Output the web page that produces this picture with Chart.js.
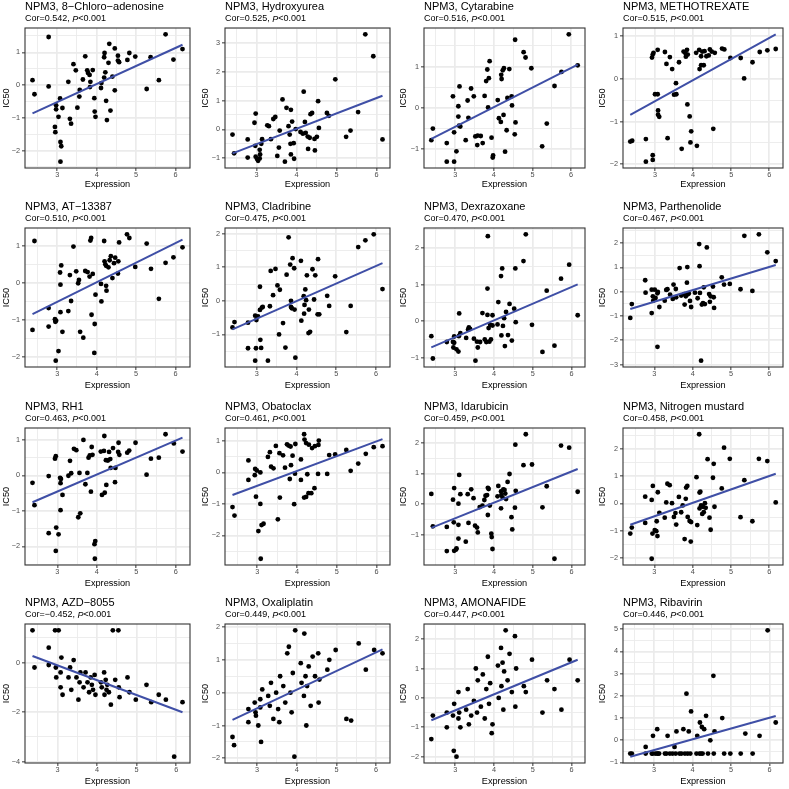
<!DOCTYPE html>
<html>
<head>
<meta charset="utf-8">
<script src="https://cdn.jsdelivr.net/npm/chart.js@4.4.0/dist/chart.umd.min.js"></script>
<style>
  body { margin: 0; background: #fff; overflow: hidden; }
  #grid { position: relative; width: 789px; height: 789px; }
  #grid canvas { position: absolute; }
</style>
</head>
<body>
<div id="grid"></div>
<script>
// panel titles and stats, row by row
const geneName = 'NPM3';
const drugNames = ['8\u2212Chloro\u2212adenosine', 'Hydroxyurea', 'Cytarabine', 'METHOTREXATE',
  'AT\u221213387', 'Cladribine', 'Dexrazoxane', 'Parthenolide',
  'RH1', 'Obatoclax', 'Idarubicin', 'Nitrogen mustard',
  'AZD\u22128055', 'Oxaliplatin', 'AMONAFIDE', 'Ribavirin'];
const corValues = ['0.542', '0.525', '0.516', '0.515', '0.510', '0.475', '0.470', '0.467',
  '0.463', '0.461', '0.459', '0.458', '\u22120.452', '0.449', '0.447', '0.446'];
const pValueText = '<0.001';

const xTicks = [3, 4, 5, 6];
const yTicks = [
  [-2, -1, 0, 1], [-1, 0, 1, 2, 3], [-1, 0, 1], [-2, -1, 0, 1],
  [-2, -1, 0, 1], [-1, 0, 1, 2], [-1, 0, 1, 2], [-3, -2, -1, 0, 1, 2],
  [-2, -1, 0, 1], [-2, -1, 0, 1], [-1, 0, 1, 2], [-2, -1, 0, 1, 2],
  [-4, -2, 0], [-2, -1, 0, 1, 2], [-2, -1, 0, 1, 2], [0, 1, 2, 3, 4, 5]
];

// [expression, IC50] per panel
const pts1 = [[2.37,0.15],[2.42,-0.28],[2.78,1.47],[2.78,-0.04],[2.97,-0.62],[2.97,-0.74],[3.07,-0.41],[3.03,-0.97],[2.94,-1.28],[2.95,-1.44],[3.08,-1.74],[3.10,-1.87],[3.08,-2.34],[3.13,-0.70],[3.28,0.10],[3.32,-1.03],[3.35,-1.18],[3.41,0.64],[3.47,0.45],[3.51,-0.69],[3.57,-0.15],[3.56,-0.35],[3.65,0.17],[3.71,0.88],[3.76,0.45],[3.78,0.37],[3.84,0.10],[3.83,-0.06],[3.82,0.31],[3.90,0.46],[3.94,-0.40],[3.95,-0.81],[3.97,-0.97],[4.11,-0.09],[4.12,0.06],[4.19,0.23],[4.19,0.85],[4.20,0.98],[4.22,0.39],[4.24,-0.48],[4.26,-1.07],[4.30,0.68],[4.32,1.26],[4.35,-0.78],[4.40,0.26],[4.46,1.12],[4.46,-0.16],[4.54,0.90],[4.54,0.75],[4.57,0.70],[4.83,0.98],[4.78,0.77],[4.98,0.87],[5.27,-0.12],[5.37,0.85],[5.58,0.15],[5.75,1.55],[5.95,0.78],[6.18,1.10]];
const pts2 = [[2.40,-0.18],[2.44,-0.83],[2.78,-0.35],[2.78,-0.98],[2.98,0.55],[2.95,0.23],[2.97,-0.57],[2.98,-0.95],[3.02,-1.04],[3.04,-1.09],[3.08,-1.01],[3.09,-0.87],[3.08,-0.71],[3.12,-0.50],[3.14,-0.34],[3.27,0.14],[3.31,0.11],[3.36,-0.34],[3.42,0.36],[3.47,0.43],[3.52,-0.92],[3.56,-0.63],[3.58,-0.04],[3.65,1.04],[3.71,-1.12],[3.75,0.75],[3.80,0.11],[3.83,-0.18],[3.85,-0.50],[3.86,0.68],[3.86,-0.87],[3.89,0.27],[3.93,-0.48],[3.94,-1.02],[3.98,0.01],[4.10,-0.09],[4.16,-0.15],[4.18,1.31],[4.21,0.26],[4.23,-0.12],[4.28,-0.25],[4.29,-0.68],[4.33,-0.29],[4.35,0.53],[4.39,0.57],[4.45,-0.33],[4.46,-0.73],[4.51,-0.26],[4.54,0.98],[4.56,0.05],[4.76,0.57],[4.81,0.47],[4.97,1.74],[5.24,-0.26],[5.35,-0.04],[5.54,0.60],[5.72,3.30],[5.92,2.54],[6.15,-0.35]];
const pts3 = [[2.38,-0.78],[2.42,-0.50],[2.78,-0.85],[2.78,-1.30],[2.94,0.28],[2.97,-1.30],[2.97,-0.59],[3.03,-1.05],[3.08,0.04],[3.08,-0.21],[3.11,0.52],[3.10,-0.43],[3.13,-0.45],[3.27,-0.78],[3.32,0.18],[3.34,-0.24],[3.41,0.47],[3.48,0.28],[3.52,-0.69],[3.57,-0.90],[3.58,-0.67],[3.66,-0.68],[3.71,-0.85],[3.76,0.29],[3.80,0.65],[3.83,0.93],[3.85,0.01],[3.87,0.72],[3.89,1.13],[3.94,-0.72],[3.97,-1.20],[3.98,-1.15],[4.10,0.19],[4.13,-0.25],[4.18,-0.34],[4.19,0.80],[4.20,0.70],[4.23,0.91],[4.25,-0.17],[4.26,0.96],[4.29,-1.06],[4.33,-0.54],[4.35,0.24],[4.40,0.94],[4.46,0.28],[4.47,0.06],[4.54,-0.64],[4.56,-0.35],[4.55,1.65],[4.77,1.35],[4.82,1.22],[4.97,0.96],[5.25,-0.93],[5.37,-0.38],[5.57,0.53],[5.75,0.87],[5.94,1.78],[6.17,1.03]];
const pts4 = [[2.35,-1.47],[2.40,-1.45],[2.76,-1.41],[2.76,-1.94],[2.92,0.50],[2.94,0.57],[2.96,0.61],[2.94,-1.79],[2.94,-1.90],[3.00,-0.36],[3.07,-0.36],[3.07,0.68],[3.08,-0.74],[3.08,-0.84],[3.11,-0.89],[3.26,0.63],[3.30,0.35],[3.33,-1.39],[3.39,0.51],[3.45,0.23],[3.50,-0.37],[3.55,-0.10],[3.56,-0.36],[3.63,0.39],[3.70,-1.64],[3.75,0.64],[3.80,0.60],[3.81,0.52],[3.84,0.68],[3.85,-0.60],[3.86,0.57],[3.91,-0.88],[3.93,-1.49],[3.95,-1.23],[4.08,0.61],[4.10,-1.57],[4.16,0.68],[4.17,0.23],[4.21,0.32],[4.21,0.53],[4.24,0.64],[4.28,0.32],[4.30,0.65],[4.35,0.53],[4.41,0.55],[4.44,0.69],[4.49,0.64],[4.53,-1.17],[4.57,0.61],[4.76,0.71],[4.82,0.69],[4.98,0.49],[5.25,0.49],[5.34,0.01],[5.56,0.39],[5.75,0.63],[5.95,0.67],[6.17,0.70]];
const pts5 = [[2.37,-1.27],[2.42,1.13],[2.78,-1.18],[2.78,-0.68],[2.94,-0.98],[2.95,-1.05],[2.97,-1.02],[2.96,-2.10],[3.03,-1.84],[3.07,0.28],[3.08,-0.05],[3.08,-0.79],[3.10,0.47],[3.13,-1.32],[3.28,-0.76],[3.32,0.21],[3.35,-0.49],[3.41,0.98],[3.48,0.31],[3.53,-0.01],[3.55,0.08],[3.58,-1.32],[3.66,-1.48],[3.71,0.32],[3.77,0.29],[3.82,0.17],[3.84,1.14],[3.86,1.21],[3.87,-0.86],[3.90,0.24],[3.95,-1.11],[3.94,-1.89],[3.97,-0.32],[4.11,-0.03],[4.12,-0.50],[4.19,1.13],[4.20,0.58],[4.22,0.50],[4.24,0.46],[4.24,-0.08],[4.25,-0.21],[4.30,0.42],[4.33,0.61],[4.36,0.72],[4.40,0.13],[4.44,0.53],[4.47,0.68],[4.54,0.25],[4.55,0.58],[4.57,1.09],[4.77,1.31],[4.83,1.21],[4.98,0.43],[5.27,1.06],[5.38,0.38],[5.58,-0.43],[5.75,0.54],[5.95,0.69],[6.18,0.96]];
const pts6 = [[2.39,-0.79],[2.44,-0.63],[2.78,-0.65],[2.78,-1.41],[2.96,-0.44],[2.98,-1.41],[2.96,-1.78],[2.99,-0.57],[3.03,-0.46],[3.08,0.42],[3.08,-0.27],[3.09,-1.16],[3.11,-1.40],[3.13,-0.20],[3.15,-0.18],[3.28,-1.78],[3.33,-0.16],[3.35,0.89],[3.41,0.17],[3.47,0.95],[3.52,0.46],[3.56,-1.00],[3.58,0.33],[3.66,-0.66],[3.72,-1.39],[3.75,0.78],[3.80,1.89],[3.84,1.08],[3.86,0.00],[3.86,-0.18],[3.88,-0.22],[3.90,1.27],[3.94,0.97],[3.95,-0.26],[3.97,-1.69],[4.11,1.19],[4.12,-0.59],[4.18,0.14],[4.19,-0.38],[4.20,-0.12],[4.22,0.34],[4.24,0.02],[4.26,0.76],[4.30,-0.96],[4.31,-0.26],[4.34,-0.92],[4.40,0.94],[4.44,0.04],[4.47,0.76],[4.53,-0.40],[4.54,1.24],[4.57,-0.40],[4.77,0.15],[4.82,-0.15],[4.97,0.73],[5.25,-0.93],[5.36,-0.15],[5.55,1.60],[5.73,1.80],[5.94,1.98],[6.16,0.35]];
const pts7 = [[2.38,-0.41],[2.42,-1.02],[2.78,-0.57],[2.94,-0.57],[2.95,-0.72],[2.97,-0.42],[2.97,-0.59],[3.03,-0.77],[3.08,-0.83],[3.09,-0.41],[3.10,0.21],[3.13,-0.33],[3.28,-0.46],[3.33,-0.23],[3.35,-0.17],[3.38,-0.21],[3.48,-0.48],[3.52,-1.08],[3.56,-0.56],[3.58,-0.72],[3.64,-0.57],[3.70,0.22],[3.76,-0.50],[3.80,-0.57],[3.83,0.89],[3.83,0.17],[3.84,2.32],[3.86,-0.19],[3.88,-0.56],[3.90,-0.10],[3.92,-0.50],[3.96,0.16],[3.96,-0.12],[4.09,-0.09],[4.11,0.52],[4.18,1.23],[4.19,-0.39],[4.21,1.44],[4.23,-0.13],[4.26,0.08],[4.28,-0.68],[4.31,0.25],[4.36,-0.38],[4.40,0.47],[4.46,-0.53],[4.52,0.34],[4.55,1.44],[4.56,-0.03],[4.76,1.64],[4.82,2.37],[4.98,-0.10],[5.25,-0.84],[5.36,0.83],[5.56,-0.67],[5.73,1.16],[5.94,1.54],[6.16,0.16]];
const pts8 = [[2.37,-1.08],[2.41,-0.51],[2.76,0.47],[2.77,-0.04],[2.93,-0.88],[2.93,0.08],[2.96,-0.19],[2.97,-0.37],[3.01,0.08],[3.03,-0.26],[3.08,-0.07],[3.08,-2.27],[3.09,-0.01],[3.13,-0.63],[3.27,-0.37],[3.31,0.07],[3.34,0.10],[3.41,-0.12],[3.48,-0.30],[3.50,0.29],[3.56,0.11],[3.57,-0.23],[3.66,0.97],[3.70,-0.16],[3.78,-0.10],[3.79,-0.53],[3.82,-0.19],[3.85,0.37],[3.86,1.01],[3.87,-0.11],[3.90,-0.08],[3.93,-0.38],[3.96,-0.63],[4.06,-0.04],[4.13,-0.27],[4.17,1.96],[4.18,1.05],[4.19,-0.05],[4.22,-2.84],[4.24,-0.53],[4.27,-0.47],[4.29,0.18],[4.32,-0.51],[4.37,1.82],[4.43,-0.10],[4.45,-0.42],[4.47,-0.19],[4.53,0.21],[4.55,-0.23],[4.56,-0.67],[4.76,0.59],[4.82,0.29],[4.97,0.32],[5.25,0.10],[5.35,2.30],[5.56,0.03],[5.73,2.36],[5.95,1.62],[6.17,1.26]];
const pts9 = [[2.37,-0.21],[2.42,-0.84],[2.78,-0.02],[2.78,-1.63],[2.94,0.47],[2.96,0.54],[2.97,-1.47],[2.96,-2.13],[3.03,-1.66],[3.07,-0.07],[3.08,-0.22],[3.09,-0.10],[3.08,-0.98],[3.13,-0.55],[3.28,-0.01],[3.32,0.41],[3.35,0.06],[3.42,0.75],[3.48,0.71],[3.53,-1.18],[3.56,0.07],[3.58,-1.07],[3.66,1.00],[3.71,-0.25],[3.76,0.07],[3.79,0.50],[3.82,0.56],[3.85,-0.46],[3.87,0.80],[3.89,0.58],[3.94,-1.94],[3.96,-1.85],[3.95,-2.35],[4.10,0.67],[4.13,-0.55],[4.18,0.69],[4.19,1.11],[4.20,-0.49],[4.23,0.43],[4.24,-0.27],[4.28,0.42],[4.31,0.66],[4.34,0.46],[4.35,0.21],[4.41,0.77],[4.46,-0.19],[4.47,0.21],[4.55,0.92],[4.54,0.66],[4.57,0.58],[4.77,0.64],[4.82,0.70],[4.98,0.92],[5.26,0.02],[5.37,0.47],[5.57,0.50],[5.74,1.16],[5.95,0.90],[6.17,0.67]];
const pts10 = [[2.38,-1.10],[2.43,-1.37],[2.78,0.38],[2.78,-0.24],[2.94,-0.09],[2.95,0.11],[2.97,-0.77],[2.99,0.06],[3.03,-1.86],[3.08,0.00],[3.08,-1.00],[3.09,-2.74],[3.11,-1.67],[3.16,-1.63],[3.27,0.49],[3.32,0.64],[3.35,0.18],[3.41,0.13],[3.47,0.84],[3.52,-1.49],[3.56,0.61],[3.57,-0.80],[3.65,0.54],[3.70,0.15],[3.75,0.89],[3.79,0.85],[3.82,-0.21],[3.85,0.23],[3.84,0.82],[3.89,0.53],[3.93,-1.01],[3.96,0.90],[3.95,-0.04],[4.10,0.41],[4.10,-0.24],[4.18,1.21],[4.19,1.04],[4.18,-0.80],[4.23,0.93],[4.23,-0.78],[4.26,-0.06],[4.29,-0.66],[4.30,0.88],[4.36,-0.66],[4.38,0.77],[4.44,-0.50],[4.45,0.83],[4.53,-0.05],[4.54,0.87],[4.55,1.01],[4.76,-0.05],[4.81,0.55],[4.96,0.57],[5.24,0.71],[5.35,0.05],[5.54,0.28],[5.73,0.59],[5.93,0.80],[6.15,0.83]];
const pts11 = [[2.38,0.33],[2.42,-0.73],[2.78,-0.75],[2.78,-1.54],[2.94,0.14],[2.97,0.52],[2.96,-0.60],[2.97,-1.53],[3.02,-1.49],[3.03,-1.45],[3.08,0.01],[3.08,-0.68],[3.08,-1.13],[3.10,0.95],[3.13,0.32],[3.27,-1.23],[3.32,0.32],[3.34,-0.62],[3.41,0.48],[3.47,0.19],[3.51,-0.71],[3.56,-0.77],[3.58,-0.93],[3.63,-0.10],[3.70,-0.05],[3.75,0.13],[3.78,0.27],[3.82,0.29],[3.84,0.53],[3.86,0.49],[3.84,-0.36],[3.89,-0.05],[3.93,-0.97],[3.94,-1.08],[3.96,-1.47],[4.11,0.59],[4.09,0.25],[4.18,-0.14],[4.18,0.41],[4.19,0.29],[4.22,0.21],[4.24,0.48],[4.27,0.46],[4.29,0.34],[4.31,0.16],[4.35,0.72],[4.40,0.98],[4.45,-0.43],[4.47,-0.83],[4.54,-0.12],[4.55,1.94],[4.56,0.43],[4.76,1.27],[4.82,2.28],[4.98,1.29],[5.25,-0.11],[5.36,0.58],[5.56,-1.79],[5.73,1.91],[5.94,1.84],[6.16,0.40]];
const pts12 = [[2.37,-1.10],[2.41,-0.88],[2.76,0.25],[2.76,-0.71],[2.93,0.13],[2.96,0.64],[2.95,-1.10],[2.93,-2.02],[3.01,-0.97],[3.05,-1.01],[3.08,-1.19],[3.06,-0.65],[3.09,0.41],[3.13,-0.34],[3.27,-0.52],[3.31,0.04],[3.34,0.72],[3.40,0.67],[3.46,0.01],[3.51,-0.49],[3.55,-0.35],[3.57,-0.77],[3.64,0.24],[3.70,-0.32],[3.74,-0.07],[3.79,-1.30],[3.82,0.17],[3.83,0.58],[3.86,0.64],[3.87,-0.49],[3.92,-0.64],[3.95,-1.39],[3.96,-0.68],[4.10,0.96],[4.12,-0.79],[4.17,2.53],[4.18,0.40],[4.20,0.43],[4.18,-0.18],[4.22,-0.07],[4.25,-0.38],[4.27,-0.12],[4.29,-0.32],[4.32,0.01],[4.34,-0.16],[4.39,1.62],[4.44,-0.52],[4.47,-0.96],[4.53,0.94],[4.55,1.45],[4.57,-0.12],[4.76,0.55],[4.82,2.04],[4.97,1.63],[5.25,-0.50],[5.35,0.85],[5.56,-0.65],[5.73,1.63],[5.95,1.55],[6.17,0.04]];
const pts13 = [[2.37,1.30],[2.42,-0.20],[2.78,0.60],[2.78,-0.10],[2.94,1.30],[2.96,-0.20],[2.97,-0.60],[3.03,1.30],[3.08,-1.00],[3.08,-0.40],[3.10,0.20],[3.13,-1.30],[3.28,-0.60],[3.32,-0.20],[3.35,-1.10],[3.41,0.10],[3.48,-0.60],[3.53,-1.50],[3.56,-0.80],[3.58,-0.40],[3.66,-1.00],[3.71,-0.40],[3.76,-0.80],[3.80,-1.20],[3.84,-0.60],[3.87,-0.90],[3.90,-1.10],[3.94,-0.50],[3.96,-1.30],[4.10,-0.80],[4.12,-1.00],[4.18,-0.40],[4.19,-1.30],[4.22,-0.70],[4.24,-1.10],[4.26,-0.90],[4.30,-1.20],[4.35,-1.70],[4.40,1.30],[4.46,-0.70],[4.54,1.30],[4.55,-1.00],[4.57,-1.40],[4.77,-0.60],[4.82,-1.20],[4.98,-1.50],[5.25,-0.90],[5.37,-1.60],[5.56,-1.30],[5.74,-1.50],[5.95,-3.80],[6.16,-1.60]];
const pts14 = [[2.38,-1.35],[2.42,-1.60],[2.78,-0.50],[2.78,-0.90],[2.94,-0.30],[2.96,-0.60],[2.97,-0.70],[3.03,-1.00],[3.08,-0.20],[3.08,-0.45],[3.10,-1.50],[3.13,0.10],[3.28,-0.10],[3.32,-0.40],[3.35,0.30],[3.41,-0.80],[3.48,0.00],[3.53,-0.50],[3.56,-0.90],[3.58,0.50],[3.66,0.20],[3.71,-0.30],[3.76,1.20],[3.80,1.40],[3.84,0.00],[3.87,-0.60],[3.90,0.60],[3.94,-1.95],[3.96,1.90],[4.10,0.90],[4.12,0.30],[4.18,-0.10],[4.19,1.80],[4.22,0.50],[4.24,-1.00],[4.26,0.20],[4.30,0.80],[4.35,-0.40],[4.40,1.10],[4.46,0.50],[4.54,1.20],[4.55,-0.30],[4.57,0.40],[4.77,0.70],[4.82,1.00],[4.98,1.30],[5.25,-0.80],[5.37,-0.85],[5.56,1.50],[5.74,0.70],[5.95,1.30],[6.16,1.20]];
const pts15 = [[2.38,-1.40],[2.42,-0.60],[2.78,-0.50],[2.78,-1.00],[2.94,-0.60],[2.96,-1.80],[2.97,-0.20],[3.03,-2.00],[3.08,-0.70],[3.08,0.20],[3.10,-0.50],[3.13,-1.00],[3.28,-0.40],[3.32,0.30],[3.35,-0.90],[3.41,-0.60],[3.48,-0.10],[3.53,1.00],[3.56,-0.50],[3.58,0.60],[3.66,-0.30],[3.71,0.80],[3.76,-0.70],[3.80,0.30],[3.84,1.40],[3.87,-0.20],[3.90,0.50],[3.94,-1.20],[3.96,-0.90],[4.10,1.10],[4.12,0.00],[4.18,1.70],[4.19,0.40],[4.22,1.20],[4.24,-0.40],[4.26,0.90],[4.30,2.30],[4.35,0.60],[4.40,1.50],[4.46,0.20],[4.54,2.10],[4.55,-0.30],[4.57,1.00],[4.77,0.40],[4.82,0.20],[4.98,1.30],[5.25,-0.50],[5.37,0.60],[5.56,0.30],[5.74,-0.40],[5.95,1.30],[6.16,0.60]];
const pts16 = [[2.38,-0.60],[2.42,-0.60],[2.78,-0.60],[2.78,-0.30],[2.94,-0.60],[2.96,-0.60],[2.97,0.20],[3.03,-0.60],[3.08,-0.60],[3.08,0.50],[3.10,-0.60],[3.13,-0.60],[3.28,-0.60],[3.32,-0.60],[3.35,0.20],[3.41,-0.60],[3.48,-0.60],[3.53,-0.30],[3.56,-0.60],[3.58,0.40],[3.66,-0.60],[3.71,-0.60],[3.76,0.50],[3.80,-0.60],[3.84,2.10],[3.87,-0.60],[3.90,0.40],[3.94,-0.60],[3.96,1.30],[4.10,-0.60],[4.12,0.20],[4.18,-0.60],[4.19,0.80],[4.22,-0.60],[4.24,0.60],[4.26,-0.60],[4.30,0.50],[4.35,1.10],[4.40,-0.60],[4.46,0.00],[4.54,2.90],[4.55,-0.60],[4.57,0.40],[4.77,1.00],[4.82,-0.60],[4.98,-0.60],[5.25,-0.60],[5.37,0.30],[5.56,-0.60],[5.74,0.20],[5.95,4.95],[6.16,0.80]];
const panelPoints = [pts1, pts2, pts3, pts4, pts5, pts6, pts7, pts8, pts9, pts10, pts11, pts12, pts13, pts14, pts15, pts16];

// page layout (pixels, relative to each 197px cell)
const cellStart = [0, 197, 394, 592];
const plotLeft = [25, 28, 30, 31];
const plotRight = [190, 193, 191, 191];
const yTitleX = [6, 8, 9.3, 10.3];
const plotTop = [28, 31, 34, 32];
const plotBottom = [168, 170, 171, 171];
const xTitleY = [184.3, 188.5, 189.2, 189.3];
const CELL = 197;

const FONT = '"Liberation Sans", Arial, Helvetica, sans-serif';
const minus = v => (v < 0 ? '\u2212' : '') + Math.abs(v);

function withMinor(majors, lo, hi) {
  const step = majors.length > 1 ? majors[1] - majors[0] : 1;
  const out = [];
  for (let v = majors[0] - step * 2; v <= majors[majors.length - 1] + step * 2 + 1e-9; v += step / 2) {
    const r = Math.round(v * 1000) / 1000;
    if (r >= lo && r <= hi) out.push(r);
  }
  return { ticks: out, step };
}

// least squares line over the points (geom_smooth, method = "lm")
function fitLine(pts) {
  const n = pts.length;
  let sx = 0, sy = 0, sxx = 0, sxy = 0;
  pts.forEach(([x, y]) => { sx += x; sy += y; sxx += x * x; sxy += x * y; });
  const b = (n * sxy - sx * sy) / (n * sxx - sx * sx);
  const a = (sy - b * sx) / n;
  const xs = pts.map(p => p[0]);
  const x0 = Math.min(...xs), x1 = Math.max(...xs);
  return [{ x: x0, y: a + b * x0 }, { x: x1, y: a + b * x1 }];
}

const panelDecor = {
  id: 'panelDecor',
  afterDraw(chart, args, opts) {
    const { ctx, chartArea: a } = chart;
    ctx.save();
    ctx.strokeStyle = '#333333';
    ctx.lineWidth = 1.1;
    ctx.strokeRect(a.left, a.top, a.right - a.left, a.bottom - a.top);
    ctx.fillStyle = '#000';
    ctx.textBaseline = 'middle';
    ctx.textAlign = 'left';
    ctx.font = '11px ' + FONT;
    ctx.fillText(opts.title, a.left, a.top - 21.5);
    let x = a.left;
    const parts = [['Cor=' + opts.cor + ', ', ''], ['P', 'italic '], [opts.p, '']];
    parts.forEach(([t, style]) => {
      ctx.font = style + '9px ' + FONT;
      ctx.fillText(t, x, a.top - 9);
      x += ctx.measureText(t).width;
    });
    ctx.restore();
  }
};

const grid = document.getElementById('grid');

panelPoints.forEach((pts, i) => {
  const row = Math.floor(i / 4), col = i % 4;
  const canvas = document.createElement('canvas');
  canvas.width = CELL; canvas.height = CELL;
  canvas.style.left = cellStart[col] + 'px';
  canvas.style.top = cellStart[row] + 'px';
  grid.appendChild(canvas);

  const line = fitLine(pts);
  const xs = pts.map(p => p[0]);
  const ys = pts.map(p => p[1]).concat(line.map(p => p.y));
  const xMin = Math.min(...xs), xMax = Math.max(...xs);
  const yMin = Math.min(...ys), yMax = Math.max(...ys);
  const xPad = (xMax - xMin) * 0.05, yPad = (yMax - yMin) * 0.05;
  const xr = [xMin - xPad, xMax + xPad], yr = [yMin - yPad, yMax + yPad];
  const xt = withMinor(xTicks, xr[0], xr[1]);
  const yt = withMinor(yTicks[i], yr[0], yr[1]);
  const isMajor = (v, s) => Math.abs(v / s - Math.round(v / s)) < 1e-6;

  const gridOpts = step => ({
    color: '#EBEBEB',
    lineWidth: c => (c.tick && isMajor(c.tick.value, step)) ? 1.7 : 0.9,
    drawTicks: true,
    tickLength: 3,
    tickWidth: 1,
    tickColor: c => (c.tick && isMajor(c.tick.value, step)) ? '#333333' : 'rgba(0,0,0,0)'
  });

  new Chart(canvas, {
    type: 'scatter',
    data: {
      datasets: [
        {
          data: line,
          showLine: true,
          borderColor: '#3F4FA6',
          borderWidth: 2,
          pointRadius: 0,
          order: 0
        },
        {
          data: pts.map(([x, y]) => ({ x, y })),
          pointRadius: 2.4,
          pointBackgroundColor: '#000',
          pointBorderWidth: 0,
          order: 1
        }
      ]
    },
    options: {
      responsive: false,
      animation: false,
      devicePixelRatio: 1,
      layout: {
        autoPadding: false,
        padding: { top: plotTop[row], right: CELL - plotRight[col], left: 0, bottom: 0 }
      },
      plugins: {
        legend: { display: false },
        tooltip: { enabled: false },
        panelDecor: { title: geneName + ', ' + drugNames[i], cor: corValues[i], p: pValueText }
      },
      scales: {
        x: {
          type: 'linear',
          min: xr[0], max: xr[1],
          afterBuildTicks: s => { s.ticks = xt.ticks.map(v => ({ value: v })); },
          afterFit: s => { s.height = CELL - plotBottom[row]; },
          ticks: {
            autoSkip: false, maxRotation: 0, padding: 0,
            color: '#4D4D4D', font: { family: FONT, size: 7.3 },
            callback: v => isMajor(v, xt.step) ? minus(v) : ''
          },
          grid: gridOpts(xt.step),
          border: { display: false },
          title: {
            display: true, text: 'Expression', color: '#000',
            font: { family: FONT, size: 9.2 },
            padding: { top: 0, bottom: CELL - xTitleY[row] - 5.5 }
          }
        },
        y: {
          type: 'linear',
          min: yr[0], max: yr[1],
          afterBuildTicks: s => { s.ticks = yt.ticks.map(v => ({ value: v })); },
          afterFit: s => { s.width = plotLeft[col]; },
          ticks: {
            autoSkip: false, padding: 2,
            color: '#4D4D4D', font: { family: FONT, size: 7.3 },
            callback: v => isMajor(v, yt.step) ? minus(v) : ''
          },
          grid: gridOpts(yt.step),
          border: { display: false },
          title: {
            display: true, text: 'IC50', color: '#000',
            font: { family: FONT, size: 9.2 },
            padding: { top: yTitleX[col] - 5.5, bottom: 0 }
          }
        }
      }
    },
    plugins: [panelDecor]
  });
});
</script>
</body>
</html>
